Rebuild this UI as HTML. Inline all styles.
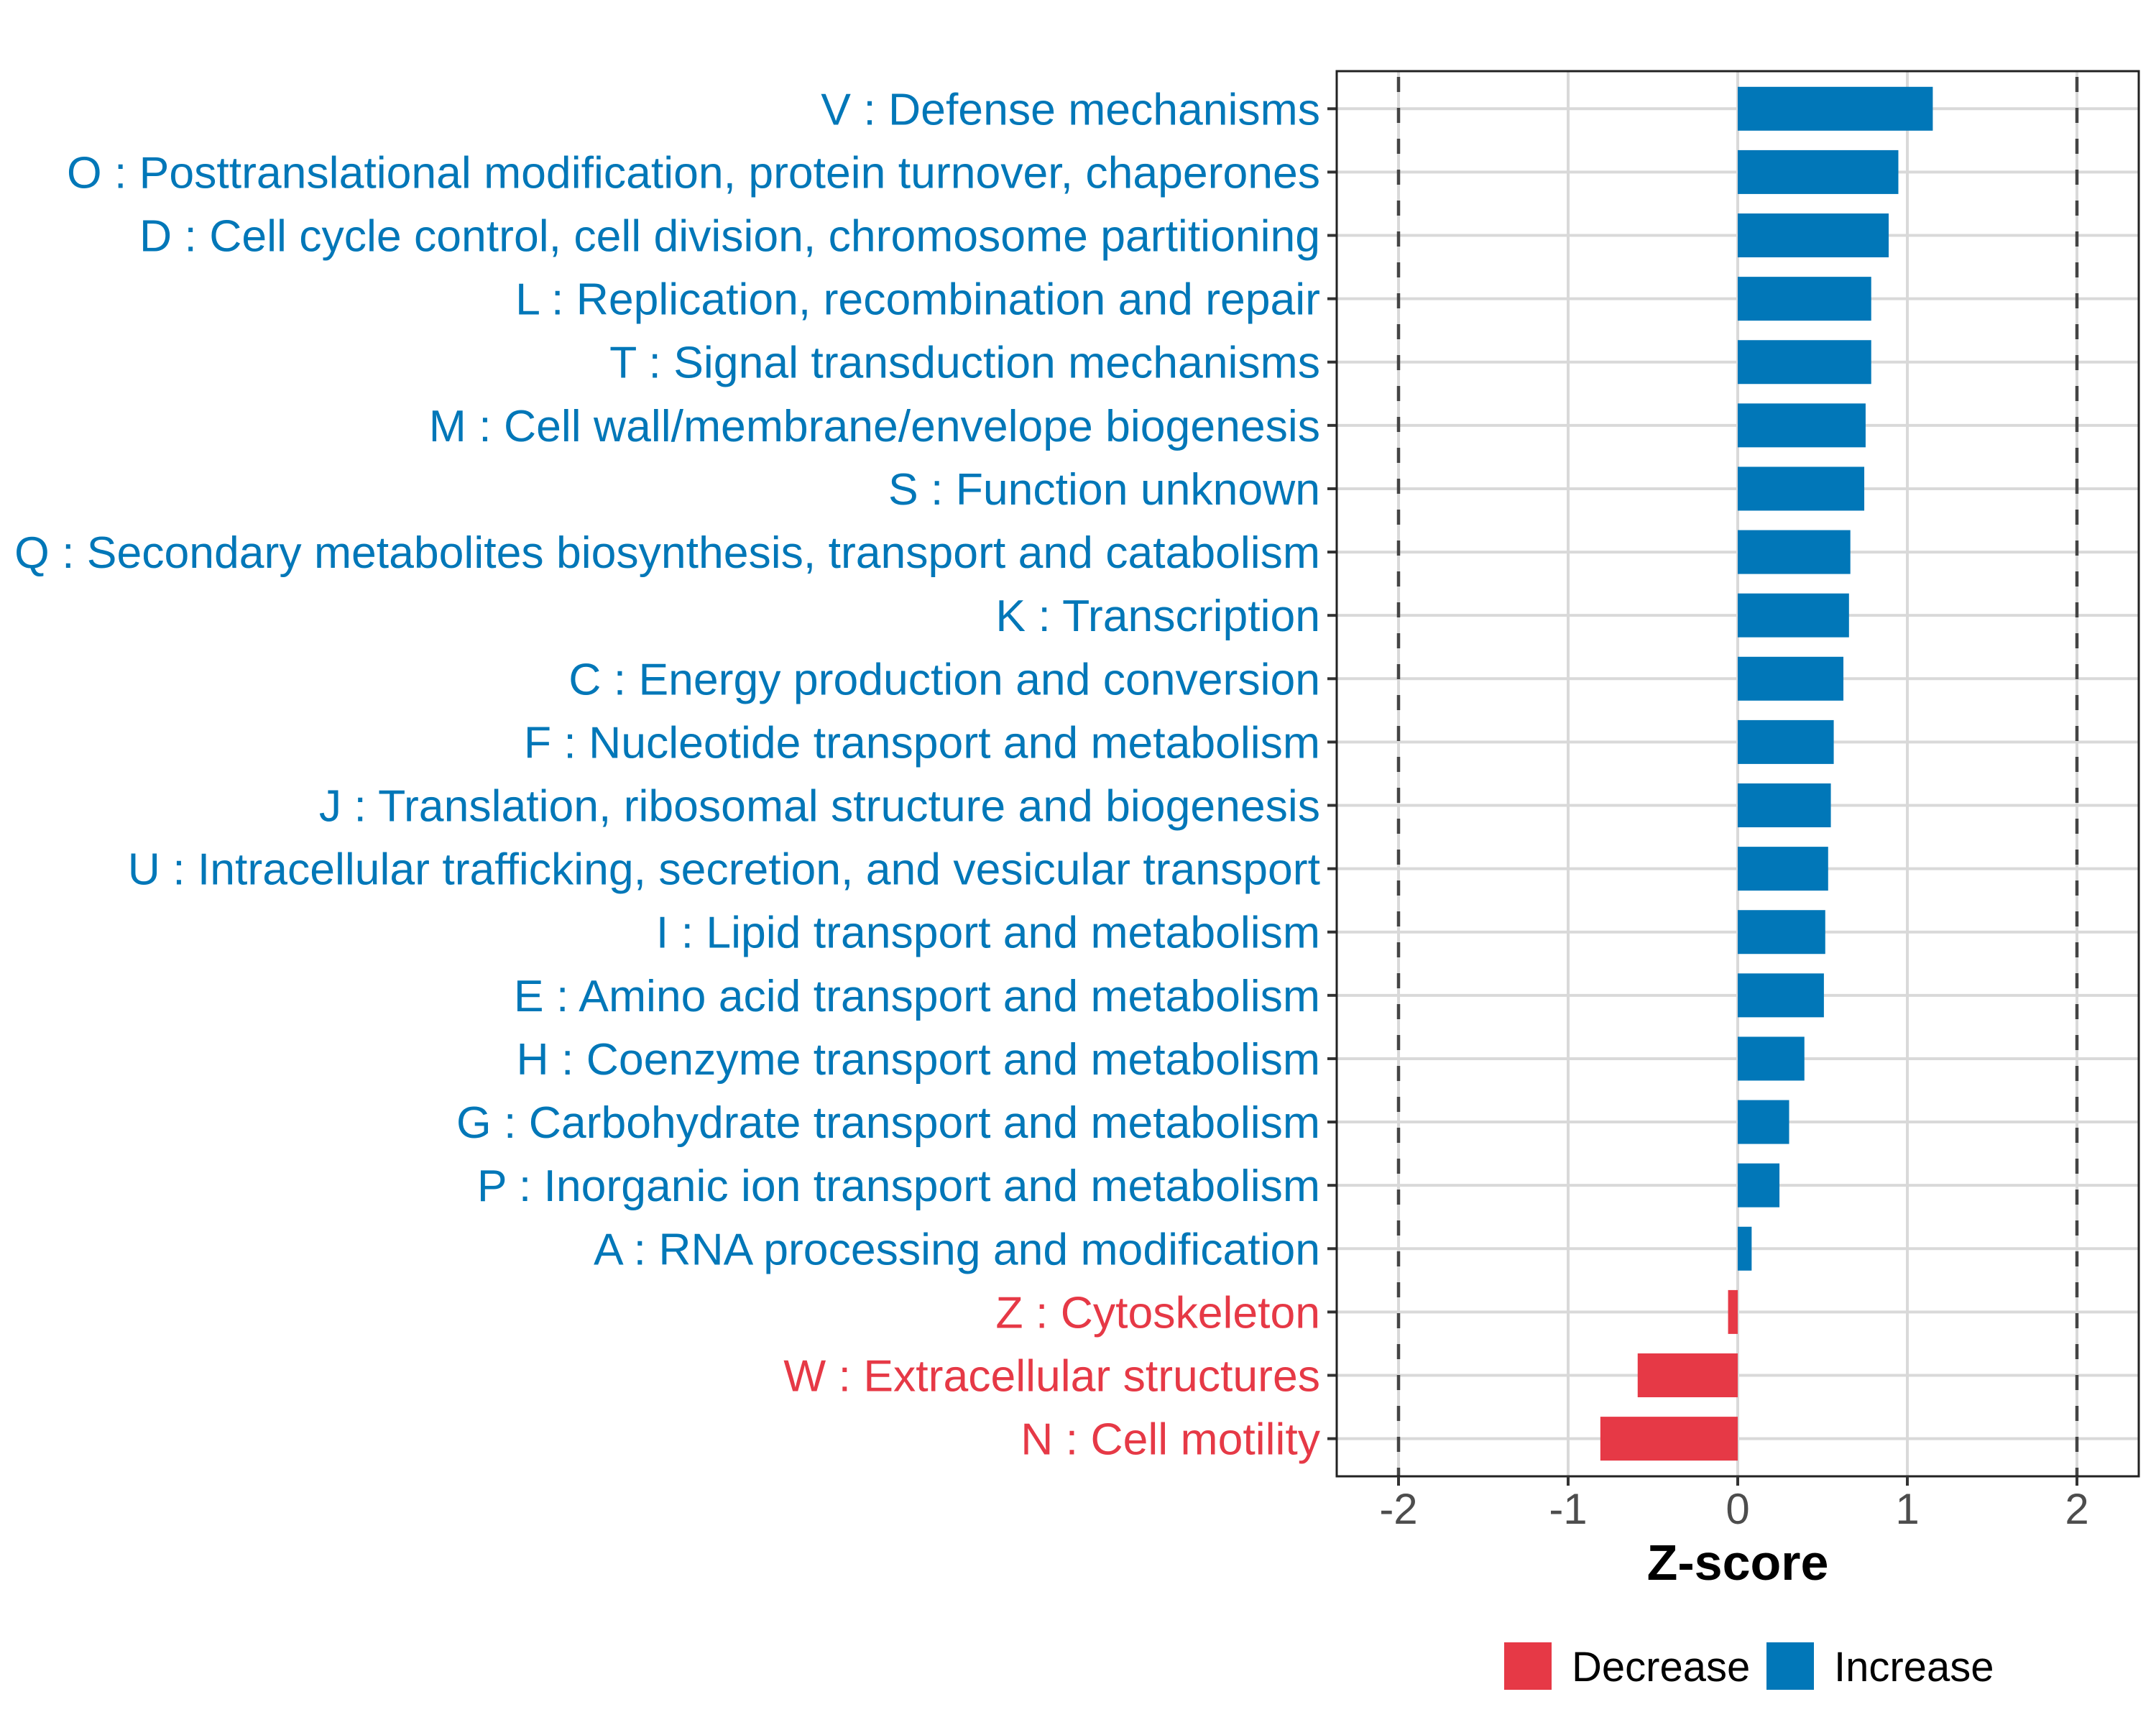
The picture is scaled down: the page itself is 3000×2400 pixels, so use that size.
<!DOCTYPE html>
<html><head><meta charset="utf-8"><style>body{margin:0;background:#fff}svg{display:block}</style></head>
<body>
<svg id="chart" width="3000" height="2400" viewBox="0 0 3000 2400" xmlns="http://www.w3.org/2000/svg" font-family="'Liberation Sans', Arial, sans-serif">
<rect width="3000" height="2400" fill="#fff"/>
<g id="grid"></g>
<g id="bars"></g>
<g id="labels"></g>
<g id="xaxis"></g>
<text x="2418" y="2198" font-size="70" font-weight="bold" text-anchor="middle" fill="#000">Z-score</text>
<g>
<rect x="2093" y="2285" width="66" height="66" fill="#E63946"/>
<text x="2187" y="2339" font-size="58" fill="#000">Decrease</text>
<rect x="2458" y="2285" width="66" height="66" fill="#0177B8"/>
<text x="2552" y="2339" font-size="58" fill="#000">Increase</text>
</g>
</svg>
<script>
const categories = ["V : Defense mechanisms","O : Posttranslational modification, protein turnover, chaperones","D : Cell cycle control, cell division, chromosome partitioning","L : Replication, recombination and repair","T : Signal transduction mechanisms","M : Cell wall/membrane/envelope biogenesis","S : Function unknown","Q : Secondary metabolites biosynthesis, transport and catabolism","K : Transcription","C : Energy production and conversion","F : Nucleotide transport and metabolism","J : Translation, ribosomal structure and biogenesis","U : Intracellular trafficking, secretion, and vesicular transport","I : Lipid transport and metabolism","E : Amino acid transport and metabolism","H : Coenzyme transport and metabolism","G : Carbohydrate transport and metabolism","P : Inorganic ion transport and metabolism","A : RNA processing and modification","Z : Cytoskeleton","W : Extracellular structures","N : Cell motility"];
const zscores = [1.15,0.947,0.89,0.787,0.787,0.754,0.746,0.664,0.656,0.623,0.566,0.549,0.533,0.516,0.508,0.393,0.303,0.246,0.082,-0.057,-0.59,-0.81];
const xTicks = [-2,-1,0,1,2];
const xTickLabels = ["-2","-1","0","1","2"];
const thresholds = [-2,2];

const NS="http://www.w3.org/2000/svg";
const PL=1860, PR=2976, PT=99, PB=2054;
const x0=2418, unit=236;
const xs=v=>x0+v*unit;
const rowTop=151.3, rowStep=88.11;
const ys=i=>rowTop+i*rowStep;
const BLUE="#0177B8", RED="#E63946";
function mk(tag,attrs,parent){const e=document.createElementNS(NS,tag);for(const k in attrs)e.setAttribute(k,attrs[k]);parent.appendChild(e);return e;}
const grid=document.getElementById('grid'),bars=document.getElementById('bars'),labels=document.getElementById('labels'),xaxis=document.getElementById('xaxis');
xTicks.forEach(t=>{const l=mk('line',{x1:xs(t),x2:xs(t),y1:PT,y2:PB,stroke:'#D9D9D9','stroke-width':4},grid);

});
categories.forEach((c,i)=>{const l=mk('line',{x1:PL,x2:PR,y1:ys(i),y2:ys(i),stroke:'#D9D9D9','stroke-width':4},grid);

});
categories.forEach((c,i)=>{const v=zscores[i];const col=v>=0?BLUE:RED;
const r=mk('rect',{x:Math.min(xs(0),xs(v)),y:ys(i)-30.5,width:Math.abs(xs(v)-xs(0)),height:61,fill:col},bars);


const t=mk('text',{x:1837,y:ys(i)+22,'font-size':62.5,'text-anchor':'end',fill:col},labels);t.textContent=c;


const tk=mk('line',{x1:1847,x2:1860,y1:ys(i),y2:ys(i),stroke:'#333','stroke-width':4},labels);

});
thresholds.forEach(t=>{const l=mk('line',{x1:xs(t),x2:xs(t),y1:PT,y2:PB,stroke:'#444','stroke-width':4.5,'stroke-dasharray':'21 22','stroke-dashoffset':'-8'},bars);

});
const frame=mk('rect',{x:PL,y:PT,width:PR-PL,height:PB-PT,fill:'none',stroke:'#222','stroke-width':3},xaxis);


xTicks.forEach((t,i)=>{const l=mk('line',{x1:xs(t),x2:xs(t),y1:PB,y2:PB+13,stroke:'#333','stroke-width':4},xaxis);


const tx=mk('text',{x:xs(t),y:2120,'font-size':60,'text-anchor':'middle',fill:'#4D4D4D'},xaxis);tx.textContent=xTickLabels[i];

});
</script>
</body></html>
